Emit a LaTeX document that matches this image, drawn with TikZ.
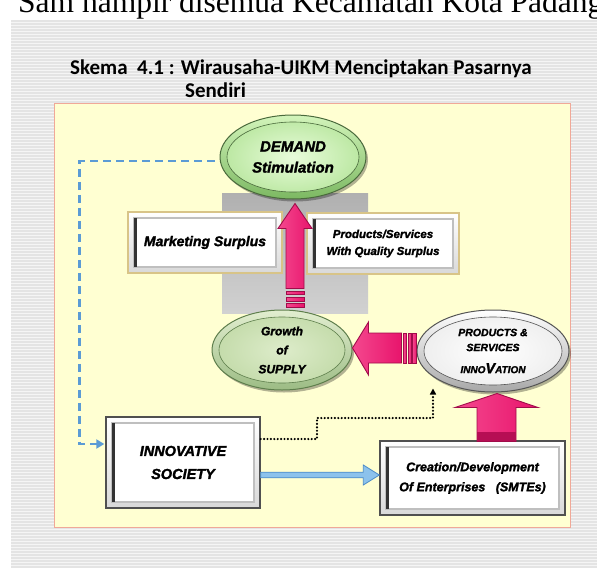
\documentclass[tikz,border=0pt]{standalone}
\usepackage{fontspec}
\setmainfont{Liberation Sans}[BoldItalicFeatures={FakeBold=1.8}]
\newfontfamily\titleF{Carlito}
\newfontfamily\serifF{Liberation Serif}
\usetikzlibrary{calc,arrows.meta,shadows,shapes.geometric}
\definecolor{panelY}{HTML}{FFFFD2}
\definecolor{panelB}{HTML}{F0A898}
\definecolor{stripeA}{HTML}{F5F5F5}
\definecolor{stripeB}{HTML}{E4E4E4}
\definecolor{pinkF}{HTML}{E8146C}
\definecolor{pinkL}{HTML}{F4488E}
\definecolor{pinkD}{HTML}{A00C4A}
\definecolor{dashB}{HTML}{5B9BD5}
\definecolor{arrB}{HTML}{8CC2EC}
\definecolor{arrBD}{HTML}{4C8CC8}
\definecolor{tanB}{HTML}{D8C488}
\definecolor{boxB}{HTML}{505050}
\definecolor{dRT}{HTML}{D2F4BA}
\definecolor{dRB}{HTML}{7CB862}
\definecolor{dIC}{HTML}{E8FCDA}
\definecolor{dOC}{HTML}{B8E69E}
\definecolor{dLN}{HTML}{4A6A3C}
\definecolor{gRT}{HTML}{E2EED0}
\definecolor{gRB}{HTML}{9CBC84}
\definecolor{gIC}{HTML}{DDECCA}
\definecolor{gOC}{HTML}{C2DAA8}
\definecolor{gLN}{HTML}{5E7E4C}
\definecolor{wRT}{HTML}{FFFFFF}
\definecolor{wRB}{HTML}{A8A8A8}
\definecolor{wIC}{HTML}{FFFFFF}
\definecolor{wOC}{HTML}{EDEDED}
\definecolor{wLN}{HTML}{555555}
\tikzset{
  myell/.style n args={5}{ellipse, inner sep=0pt, draw=#5, line width=1pt,
    top color=#1, bottom color=#2, align=center,
    drop shadow={shadow xshift=2pt, shadow yshift=-2.5pt, opacity=.3, fill=black},
    path picture={
      \path[inner color=#3, outer color=#4, draw=#5, line width=.6pt]
        let \p1=(path picture bounding box.north east), \p2=(path picture bounding box.center) in
        (\p2) ellipse [x radius={\x1-\x2-7pt}, y radius={\y1-\y2-7pt}];
    }},
  bevel/.style={rectangle, inner sep=0pt, draw=#1, line width=1.4pt,
    top color=white, bottom color=gray!30, align=center,
    path picture={
      \fill[white] ([shift={(6pt,-6pt)}]path picture bounding box.north west)
        rectangle ([shift={(-6pt,6pt)}]path picture bounding box.south east);
      \draw[gray!50, line width=1.2pt] ([shift={(6pt,-6pt)}]path picture bounding box.north west)
        rectangle ([shift={(-6pt,6pt)}]path picture bounding box.south east);
      \draw[black!80, line width=3pt] ([shift={(7.5pt,-6pt)}]path picture bounding box.north west)
        -- ([shift={(7.5pt,6pt)}]path picture bounding box.south west);
    }},
  pinkA/.style={left color=pinkL, right color=pinkF, draw=pinkD, line width=.9pt, line join=miter},
}
\begin{document}
\begin{tikzpicture}[x=1pt,y=-1pt]
\useasboundingbox (0,0) rectangle (597,570);
\fill[white] (0,0) rectangle (597,570);
\fill[stripeA] (11,20) rectangle (597,568);
\foreach \yy in {21,24,...,567} \draw[stripeB, line width=1.1pt] (11,\yy) -- (597,\yy);
\node[anchor=base west, inner sep=0pt, font=\serifF\fontsize{31.5}{31.5}\selectfont] (toptext) at (18,12.5) {Sam hampir disemua Kecamatan Kota Padang};
% title
\node[anchor=base west, inner sep=0pt, font=\titleF\bfseries\fontsize{21}{24}\selectfont] (title1) at (70,74) {Skema\ \ 4.1 : Wirausaha-UIKM Menciptakan Pasarnya};
\node[anchor=base west, inner sep=0pt, font=\titleF\bfseries\fontsize{21}{24}\selectfont] (title2) at (185,97) {Sendiri};
% panel
\draw[panelB, fill=panelY, line width=.9pt] (54,103) rectangle (570,527);
\shade[top color=gray!62, bottom color=gray!36] (222,193) rectangle (368,313);
% boxes
\node[bevel=tanB, minimum width=154pt, minimum height=61pt, font=\bfseries\itshape\fontsize{14}{18}\selectfont] (mkt) at (205,242.5) {Marketing Surplus};
\node[bevel=tanB, minimum width=152pt, minimum height=61pt, font=\bfseries\itshape\fontsize{11.5}{17}\selectfont] (prod) at (383,243.5) {Products/Services\\With Quality Surplus};
\node[bevel=boxB, minimum width=154pt, minimum height=91pt, font=\bfseries\itshape\fontsize{14.5}{23}\selectfont] (society) at (183,462.5) {INNOVATIVE\\SOCIETY};
\node[bevel=boxB, minimum width=185pt, minimum height=74pt, font=\bfseries\itshape\fontsize{12.5}{20}\selectfont] (creation) at (472.5,478) {Creation/Development\\Of Enterprises\ \ \ (SMTEs)};
% ellipses
\node[myell={dRT}{dRB}{dIC}{dOC}{dLN}, minimum width=146pt, minimum height=84pt, font=\bfseries\itshape\fontsize{15}{21}\selectfont] (demand) at (293,157) {DEMAND\\Stimulation};
\node[myell={gRT}{gRB}{gIC}{gOC}{gLN}, minimum width=140pt, minimum height=80pt, font=\bfseries\itshape\fontsize{12}{19}\selectfont] (growth) at (282,350) {Growth\\of\\SUPPLY};
\node[myell={wRT}{wRB}{wIC}{wOC}{wLN}, minimum width=152pt, minimum height=82pt, font=\bfseries\itshape\fontsize{10.5}{15}\selectfont] (innov) at (493,351) {PRODUCTS \&\\SERVICES\\[7pt]{\fontsize{10}{12}\selectfont INNO}{\fontsize{14.5}{12}\selectfont V}{\fontsize{10}{12}\selectfont ATION}};
% pink arrows
\draw[pinkA] ($(demand.south)+(2,4)$) coordinate (t1) -- ++(17,25) -- ++(-8,0) -- ++(0,60) -- ++(-18,0) -- ++(0,-60) -- ++(-8,0) -- cycle;
\foreach \a/\b in {290/293,296/300,302/306}
  \draw[pinkA] ($(t1)+(-9,\a-202)$) rectangle ++(18,\b-\a);
\draw[pinkA] ($(growth.east)+(0,-2)$) coordinate (t2) -- ++(16,-26) -- ++(0,11) -- ++(33,0) -- ++(0,30) -- ++(-33,0) -- ++(0,12) -- cycle;
\foreach \a/\b in {403/406,408/411,412/416}
  \draw[pinkA] ($(t2)+(\a-352,-15)$) rectangle ++(\b-\a,30);
\draw[pinkA] ($(innov.south)+(4,1)$) coordinate (t3) -- ++(41,14) -- ++(-22,0) -- ++(0,34) -- ++(-39,0) -- ++(0,-34) -- ++(-22,0) -- cycle;
\fill[pinkD!70!pinkF] ($(t3)+(-20,38)$) rectangle ++(39,9.5);
% blue arrow
\coordinate (bs) at ($(society.east)+(0,12.5)$);
\coordinate (be) at ($(creation.west)+(0,-3)$);
\filldraw[fill=arrB, draw=arrBD, line width=.8pt] ($(bs)+(0,-2.8)$) -- ($(be)+(-16,-2.8)$) -- ($(be)+(-16,-10)$) -- (be) -- ($(be)+(-16,10)$) -- ($(be)+(-16,2.8)$) -- ($(bs)+(0,2.8)$) -- cycle;
% dashed feedback
\draw[dashB, line width=2.8pt, dash pattern=on 8pt off 5pt, -{Triangle[length=8pt,width=9pt]}]
  ($(demand.west)+(-5,4)$) -| ($(society.west)+(-26,-18.5)$) -- ($(society.west)+(-1,-18.5)$);
% dotted
\coordinate (dotc) at (317,418);
\draw[black, line width=2.4pt, dash pattern=on 0pt off 3.4pt, line cap=round, -{Triangle[length=6pt,width=6pt]}]
  ($(society.east)+(0,-23.5)$) -| (dotc) -| ($(innov.south)+(-60,-4)$);
\end{tikzpicture}
\end{document}
